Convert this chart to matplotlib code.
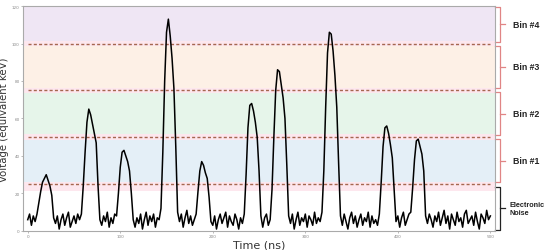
import matplotlib.pyplot as plt
import matplotlib.transforms as mtransforms
import numpy as np

# sampled trace, one value every 2 ns starting at t = 0
voltage = [
    6, 9, 3, 8, 5,
    9, 15, 21, 26, 28, 30, 27, 24, 19, 7,
    4, 8, 1, 6, 9, 3, 7, 10, 2, 5, 8, 4, 9, 6,
    9, 24, 42, 58, 65, 62, 57, 52, 47, 24, 6,
    3, 8, 5, 10, 2, 7, 4, 9,
    8, 20, 34, 42, 43, 40, 37, 32, 20, 6,
    2, 7, 4, 9, 1, 6, 10, 3, 8, 5, 9, 2, 7, 6,
    12, 42, 80, 106, 113, 104, 92, 76, 45, 10,
    5, 9, 2, 7, 11, 4, 8, 3, 6,
    9, 21, 32, 37, 35, 31, 28, 18, 5,
    3, 8, 1, 6, 9, 4, 7, 10, 2, 8, 5, 3, 9, 6, 1, 7, 4,
    9, 30, 55, 67, 68, 64, 58, 50, 32, 8,
    2, 7, 9, 3, 6,
    22, 50, 75, 86, 85, 78, 71, 60, 35, 8,
    4, 9, 1, 6, 10, 3, 7, 5, 9, 2, 8, 6, 3, 10, 4, 7, 5,
    10, 32, 66, 95, 106, 105, 96, 83, 66, 36, 8,
    3, 9, 5, 1, 7, 10, 4, 8, 2, 6, 9, 3, 7, 5, 10, 2, 8, 4, 6, 3,
    9, 26, 45, 55, 56, 52, 46, 39, 22, 5,
    8, 2, 7, 10, 3, 6, 9,
    10, 23, 38, 48, 49, 45, 41, 32, 8,
    4, 9, 6, 2, 8, 5, 10, 3, 7, 11, 4, 8, 1, 9, 6, 3, 10, 5, 7, 2,
    9, 11, 4, 6, 8, 3, 10, 5, 1, 9, 7, 4, 11, 6, 8,
]
sample_step_ns = 2

thresholds = [25, 50, 75, 100]
band_edges = [(26, 48.5), (51.5, 73.5), (76.5, 98.5), (101.5, 120)]
band_colors = ["#e4eff7", "#e6f5ea", "#fdf0e6", "#efe6f4"]

bracket_ranges = [(0.5, 23.5), (26, 49), (51, 74), (76.3, 98.7), (100.8, 119.5)]
bracket_labels = ["Electronic\nNoise", "Bin #1", "Bin #2", "Bin #3", "Bin #4"]
bracket_colors = ["#222222", "#e08585", "#e08585", "#e08585", "#e08585"]

time = np.arange(len(voltage)) * sample_step_ns

fig = plt.figure(figsize=(5.5, 2.51), dpi=100)
ax = fig.add_axes([0.042, 0.076, 0.858, 0.896])

# pink strips around the thresholds, then the bin bands
ax.axhspan(21.5, 120, color="#fde7ee", lw=0, zorder=0)
for (lo, hi), c in zip(band_edges, band_colors):
    ax.axhspan(lo, hi, color=c, lw=0, zorder=0.5)
ax.axhspan(0, 21.5, color="white", lw=0, zorder=0.5)

for th in thresholds:
    ax.hlines(th, 0, 500, colors="#a5674f", linestyles=(0, (2.2, 1.6)), lw=1.0, zorder=1)

ax.plot(time, voltage, color="black", lw=1.1, zorder=2)

ax.set_xlim(-5, 505)
ax.set_ylim(0, 120)
ax.set_xticks([0, 100, 200, 300, 400, 500])
ax.set_yticks([0, 20, 40, 60, 80, 100, 120])
ax.tick_params(labelsize=3, colors="#888888", length=1.5, width=0.4, pad=1)
for s in ax.spines.values():
    s.set_color("#aaaaaa")
    s.set_linewidth(0.8)

ax.set_xlabel("Time (ns)", fontsize=8, color="#333333", labelpad=1)
ax.set_ylabel("Voltage (equivalent keV)", fontsize=7.3, color="#333333")
ax.yaxis.set_label_coords(-0.03, 0.5)

# brackets on the right
trans = mtransforms.blended_transform_factory(ax.transAxes, ax.transData)
xb = 1.0106
xt = 1.0
xm = 1.0212
for (lo, hi), lab, c in zip(bracket_ranges, bracket_labels, bracket_colors):
    ax.plot([xt, xb, xb, xt], [lo, lo, hi, hi], color=c, lw=0.9,
            transform=trans, clip_on=False)
    mid = (lo + hi) / 2
    ax.plot([xb, xm], [mid, mid], color=c, lw=0.9, transform=trans, clip_on=False)
    is_bin = "Bin" in lab
    ax.text(1.038 if is_bin else 1.03, mid, lab, transform=trans,
            fontsize=6.3 if is_bin else 5.2, family="Liberation Sans",
            fontweight="bold", color="#222222", ha="left", va="center",
            linespacing=1.3)

fig.savefig("out.png", dpi=100)
